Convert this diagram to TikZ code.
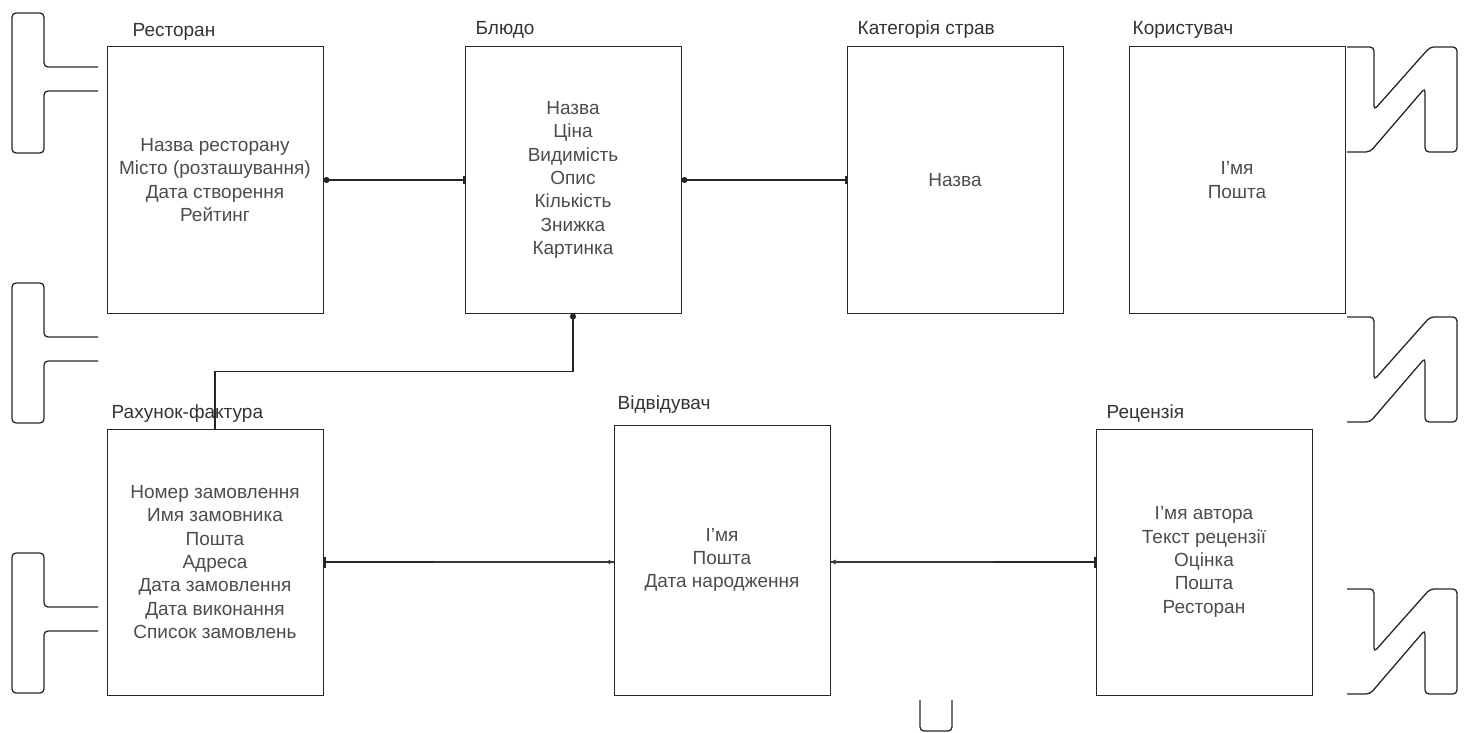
\documentclass[tikz,border=0pt]{standalone}
\usepackage{fontspec}
\setmainfont{Liberation Sans}
\usetikzlibrary{arrows.meta}

\tikzset{
    entity/.style={draw=black!85, line width=1pt, minimum width=216pt, minimum height=266pt,
        align=center, text=black!70, font=\fontsize{19}{23.3}\selectfont},
    title/.style={text=black!80, font=\fontsize{19}{20}\selectfont, inner sep=0pt},
    link/.style={line width=1.1pt, draw=black!85},
    seam/.style={line width=2pt, draw=black!78},
    glyph/.style={line width=1.3pt, draw=black!85, rounded corners=4pt},
}

\begin{document}
\begin{tikzpicture}[x=1pt,y=-1pt]
    \useasboundingbox (0,0) rectangle (1467,733);

    % Entitaeten oben
    \node[entity] (restoran) at (215,180) {Назва ресторану\\Місто (розташування)\\Дата створення\\Рейтинг};
    \node[entity] (bliudo) at (573,180) {Назва\\Ціна\\Видимість\\Опис\\Кількість\\Знижка\\Картинка};
    \node[entity] (katehoriia) at (955,180) {Назва};
    \node[entity] (korystuvach) at (1237,180) {І'мя\\Пошта};

    % Entitaeten unten
    \node[entity] (rakhunok) at (215,562) {Номер замовлення\\Имя замовника\\Пошта\\Адреса\\Дата замовлення\\Дата виконання\\Список замовлень};
    \node[entity, minimum height=270pt] (vidviduvach) at (722,560) {І'мя\\Пошта\\Дата народження};
    \node[entity] (retsenziia) at (1204,562) {І'мя автора\\Текст рецензії\\Оцінка\\Пошта\\Ресторан};

    % Titel
    \node[title, anchor=west] (restoranT) at ([xshift=26pt,yshift=15pt]restoran.north west) {Ресторан};
    \node[title, anchor=west] (bliudoT) at ([xshift=11pt,yshift=17pt]bliudo.north west) {Блюдо};
    \node[title, anchor=west] (katehoriiaT) at ([xshift=11pt,yshift=17pt]katehoriia.north west) {Категорія страв};
    \node[title, anchor=west] (korystuvachT) at ([xshift=4pt,yshift=17pt]korystuvach.north west) {Користувач};
    \node[title, anchor=west] (rakhunokT) at ([xshift=5pt,yshift=15pt]rakhunok.north west) {Рахунок-фактура};
    \node[title, anchor=west] (vidviduvachT) at ([xshift=4pt,yshift=20pt]vidviduvach.north west) {Відвідувач};
    \node[title, anchor=west] (retsenziiaT) at ([xshift=11pt,yshift=15pt]retsenziia.north west) {Рецензія};

    % Verbindungen
    \draw[link, {Circle[length=6pt]}-{Bar[width=8pt,line width=2pt]}] (restoran.east) -- (bliudo.west);
    \draw[link, {Circle[length=6pt]}-{Bar[width=8pt,line width=2pt]}] (bliudo.east) -- (katehoriia.west);
    \draw[link, {Circle[length=6pt]}-] (bliudo.south) -- ++(0,58) -| (rakhunok.north);

    \coordinate (seamL) at (434,562);
    \coordinate (seamR) at (994,562);
    \draw[link, {Bar[width=11pt,line width=2pt]}-{Latex[length=5pt,width=5pt]}] (rakhunok.east) -- (rakhunok.east -| vidviduvach.west);
    \draw[seam] (seamL) -- (seamL -| vidviduvach.west);
    \draw[link, {Bar[width=11pt,line width=2pt]}-{Latex[length=5pt,width=5pt]}] (retsenziia.west) -- (retsenziia.west -| vidviduvach.east);
    \draw[seam] (seamR) -- (seamR -| vidviduvach.east);

    % Zeichen links
    \foreach \o in {0,270,540} {
        \draw[glyph] (98,\o+67) -- (44,\o+67) -- (44,\o+13) -- (12,\o+13) -- (12,\o+153) -- (44,\o+153) -- (44,\o+91) -- (98,\o+91);
    }

    % Zeichen rechts
    \foreach \o in {0,270,542} {
        \draw[glyph] (1347,\o+47) -- (1374,\o+47) -- (1374,\o+110) -- (1430,\o+47) -- (1457,\o+47) -- (1457,\o+152)
            -- (1425,\o+152) -- (1425,\o+88) -- (1370,\o+152) -- (1347,\o+152);
    }

    % Zeichen unten
    \draw[glyph] (920,700) -- (920,731) -- (952,731) -- (952,700);
\end{tikzpicture}
\end{document}
